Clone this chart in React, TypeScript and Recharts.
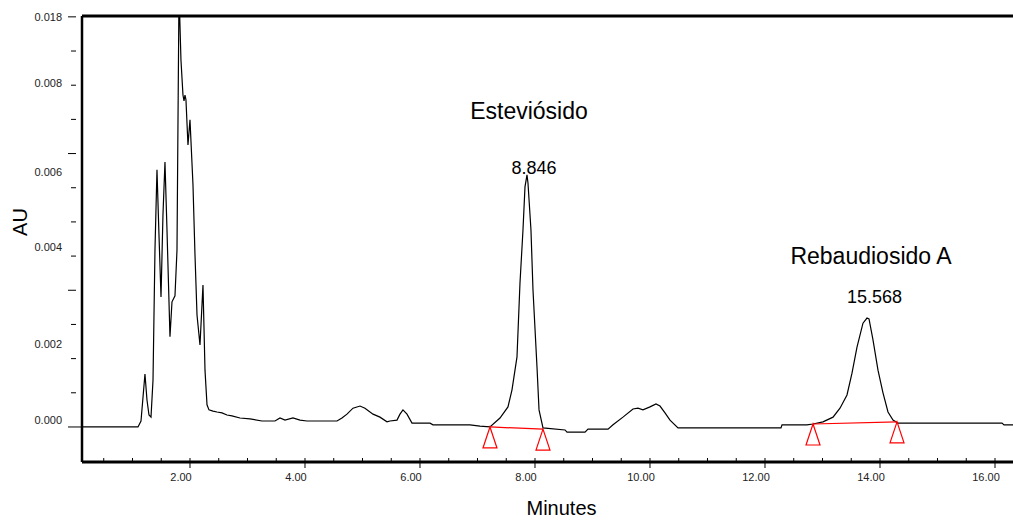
import React from 'react';
import { ComposedChart, Line, Scatter, XAxis, YAxis, ReferenceLine, ReferenceDot } from 'recharts';

// chromatogram trace (minutes / AU)
const minutes = [
  0.122, 1.096, 1.148, 1.217, 1.252, 1.287, 1.322, 1.357, 1.391, 1.426,
  1.461, 1.496, 1.530, 1.565, 1.600, 1.652, 1.687, 1.739, 1.774, 1.809,
  1.843, 1.878, 1.896, 1.913, 1.930, 1.965, 2.000, 2.052, 2.087, 2.122,
  2.174, 2.226, 2.261, 2.296, 2.330, 2.400, 2.470, 2.557, 2.643, 2.730,
  2.870, 3.043, 3.252, 3.478, 3.565, 3.652, 3.791, 3.913, 4.035, 4.557,
  4.643, 4.730, 4.835, 4.957, 5.043, 5.183, 5.304, 5.426, 5.478, 5.600,
  5.652, 5.704, 5.774, 5.861, 6.174, 6.226, 6.870, 7.043, 7.217, 7.391,
  7.530, 7.600, 7.687, 7.739, 7.791, 7.826, 7.861, 7.878, 7.930, 7.965,
  8.035, 8.070, 8.139, 8.522, 8.557, 8.870, 8.922, 9.270, 9.357, 9.530,
  9.704, 9.791, 9.878, 10.000, 10.104, 10.174, 10.261, 10.348, 10.487, 12.278,
  12.296, 12.730, 12.835, 13.009, 13.183, 13.304, 13.426, 13.513, 13.600, 13.704,
  13.774, 13.809, 13.878, 13.965, 14.052, 14.139, 14.226, 14.313, 16.122, 16.157,
  16.313,
];

const absorbance = [
  0, 0, 0.00014, 0.00124, 0.00063, 0.00028, 0.00023, 0.0011, 0.00414, 0.00602,
  0.00449, 0.00304, 0.00496, 0.0062, 0.00461, 0.00211, 0.00293, 0.00307, 0.00414, 0.0102,
  0.00859, 0.00777, 0.00763, 0.00777, 0.00766, 0.0066, 0.00719, 0.00567, 0.00403, 0.00262,
  0.00192, 0.00332, 0.00133, 0.00052, 0.0004, 0.00037, 0.00035, 0.00033, 0.00028, 0.00026,
  0.00021, 0.00019, 0.00014, 0.00014, 0.00021, 0.00016, 0.00021, 0.00016, 0.00014, 0.00014,
  0.00021, 0.0003, 0.00044, 0.00049, 0.00044, 0.0003, 0.00023, 0.00012, 0.00014, 0.00016,
  0.0003, 0.0004, 0.0003, 0.00009, 0.00009, 0.00005, 0.00005, 0.00002, 0, 0.00021,
  0.00047, 0.00087, 0.00164, 0.00337, 0.00461, 0.00562, 0.0059, 0.00571, 0.00461, 0.00321,
  0.0014, 0.0004, -0.00002, -0.00007, -0.00012, -0.00012, -0.00005, -0.00005, 0.00005, 0.00023,
  0.00042, 0.00044, 0.0004, 0.00047, 0.00054, 0.00049, 0.00033, 0.00016, -0.00002, -0.00002,
  0.00005, 0.00005, 0.00007, 0.00012, 0.00023, 0.00044, 0.00075, 0.00126, 0.00187, 0.00243,
  0.00255, 0.00253, 0.00204, 0.00133, 0.0008, 0.00035, 0.00016, 0.00009, 0.00009, 0.00005,
  0.00005,
];

// integration markers (peak start / end) and their baselines
const markerMinutes = [7.217, 8.139, 12.835, 14.296];
const markerAU = [0, -0.00005, 0.00007, 0.00012];

// axis ticks
const xTickValues = [
  0.5, 1, 1.5, 2, 2.5, 3, 3.5, 4, 4.5, 5, 5.5, 6, 6.5, 7, 7.5, 8,
  8.5, 9, 9.5, 10, 10.5, 11, 11.5, 12, 12.5, 13, 13.5, 14, 14.5, 15, 15.5, 16,
];
const xLabelValues = [2, 4, 6, 8, 10, 12, 14, 16];
const yTickValues = [0, 0.0008, 0.0016, 0.0024, 0.0032, 0.004, 0.0048, 0.0056, 0.0064, 0.0072, 0.008, 0.0088, 0.0096];
const yLabelValues = [0.00016, 0.00194, 0.00421, 0.00597, 0.00805, 0.0096];
const yLabelTexts = ['0.000', '0.002', '0.004', '0.006', '0.008', '0.018'];

// peak annotations
const noteTexts = ['Esteviósido', '8.846', 'Rebaudiosido A', '15.568'];
const noteMinutes = [7.896, 7.983, 13.843, 13.904];
const noteAU = [0.0074, 0.00606, 0.004, 0.00304];

const trace = minutes.map((t, i) => ({ t, au: absorbance[i] }));
const markers = markerMinutes.map((t, i) => ({ t, au: markerAU[i] }));
const baselines = [markers.slice(0, 2), markers.slice(2, 4)];
const yTicks = Array.from(new Set([...yTickValues, ...yLabelValues])).sort((a, b) => a - b);

const FONT = '"Liberation Sans", Arial, sans-serif';

const XTick = (props: any) => {
  const { x, y, payload } = props;
  const v = payload.value;
  const major = xLabelValues.includes(v);
  return (
    <g>
      <line x1={x} x2={x} y1={y - 4} y2={major ? y + 6 : y} stroke="#000" strokeWidth={1} />
      {major && (
        <text x={x - 9} y={y + 19} textAnchor="middle" fontSize={11} fontFamily={FONT} fill="#222">
          {v.toFixed(2)}
        </text>
      )}
    </g>
  );
};

const YTick = (props: any) => {
  const { x, y, payload } = props;
  const v = payload.value;
  const mi = yTickValues.indexOf(v);
  const li = yLabelValues.indexOf(v);
  return (
    <g>
      {mi >= 0 && (
        <line x1={x - (mi % 4 === 0 ? 14 : 11)} x2={mi === 0 ? x : x - 6} y1={y} y2={y} stroke="#000" strokeWidth={1} />
      )}
      {li >= 0 && (
        <text x={x - 20} y={y + 4} textAnchor="end" fontSize={11} fontFamily={FONT} fill="#222">
          {yLabelTexts[li]}
        </text>
      )}
    </g>
  );
};

const Triangle = (props: any) => {
  const { cx, cy } = props;
  return (
    <polygon
      points={`${cx},${cy} ${cx - 7},${cy + 21} ${cx + 7},${cy + 21}`}
      fill="none"
      stroke="#ff0000"
      strokeWidth={1.2}
    />
  );
};

export default function App() {
  return (
    <div style={{ position: 'absolute', left: 0, top: 0, width: 1013, height: 520, background: '#fff', fontFamily: FONT }}>
      <ComposedChart width={1013} height={520} margin={{ top: 16, right: 0, bottom: 0, left: 0 }}>
        <XAxis
          dataKey="t"
          type="number"
          domain={[0.122, 16.313]}
          allowDataOverflow
          ticks={xTickValues}
          interval={0}
          tick={<XTick />}
          tickLine={false}
          tickSize={0}
          tickMargin={0}
          height={58}
          axisLine={{ stroke: '#000', strokeWidth: 3 }}
          label={{
            content: (p: any) => (
              <text
                x={p.viewBox.x + p.viewBox.width / 2 + 14}
                y={p.viewBox.y + 53}
                textAnchor="middle"
                fontSize={20}
                fontFamily={FONT}
                fill="#000"
              >
                Minutes
              </text>
            ),
          }}
        />
        <YAxis
          type="number"
          domain={[-0.00082, 0.00962]}
          allowDataOverflow
          ticks={yTicks}
          interval={0}
          tick={<YTick />}
          tickLine={false}
          tickSize={0}
          tickMargin={0}
          width={82}
          axisLine={{ stroke: '#000', strokeWidth: 2.5 }}
          label={{
            content: () => (
              <text
                x={27}
                y={222}
                transform={`rotate(-90 27 222)`}
                textAnchor="middle"
                fontSize={20}
                fontFamily={FONT}
                fill="#000"
              >
                AU
              </text>
            ),
          }}
        />
        <ReferenceLine y={0.00962} stroke="#000" strokeWidth={3} />
        <Line
          data={trace}
          dataKey="au"
          type="linear"
          stroke="#000"
          strokeWidth={1.2}
          dot={false}
          isAnimationActive={false}
        />
        {baselines.map((seg, i) => (
          <Line
            key={i}
            data={seg}
            dataKey="au"
            type="linear"
            stroke="#ff0000"
            strokeWidth={1.2}
            dot={false}
            isAnimationActive={false}
          />
        ))}
        <Scatter data={markers} dataKey="au" shape={<Triangle />} isAnimationActive={false} />
        {noteTexts.map((txt, i) => (
          <ReferenceDot
            key={txt}
            x={noteMinutes[i]}
            y={noteAU[i]}
            r={0}
            fill="none"
            stroke="none"
            label={{
              value: txt,
              position: 'center',
              fontSize: i % 2 === 0 ? 23 : 18,
              fontFamily: FONT,
              fill: '#000',
            }}
          />
        ))}
      </ComposedChart>
    </div>
  );
}
